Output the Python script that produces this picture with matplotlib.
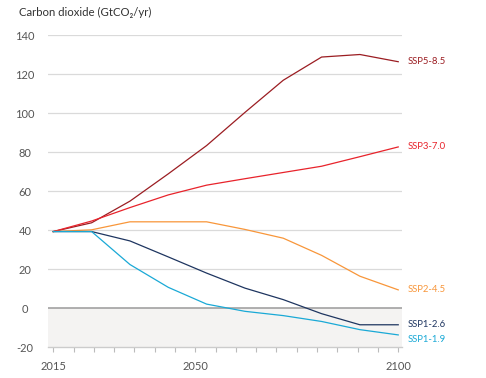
import numpy as np
import matplotlib
matplotlib.use("Agg")
import matplotlib.pyplot as plt
from matplotlib.patches import Rectangle

plt.rcParams['font.family'] = ['Lato', 'DejaVu Sans']

# data points (the original chart spaces them evenly along the axis)
years = [2015, 2020, 2030, 2040, 2050, 2060, 2070, 2080, 2090, 2100]
ssp585 = [39.2, 43.7, 54.8, 68.8, 83.3, 100.3, 116.8, 128.7, 130.0, 126.3]
ssp370 = [39.2, 44.6, 51.5, 58.0, 63.0, 66.3, 69.5, 72.7, 77.6, 82.6]
ssp245 = [39.2, 40.1, 44.2, 44.2, 44.2, 40.3, 35.8, 27.0, 16.3, 9.3]
ssp126 = [39.2, 39.2, 34.4, 26.2, 17.9, 10.2, 4.3, -2.9, -8.6, -8.6]
ssp119 = [39.2, 39.2, 22.3, 10.6, 2.0, -1.7, -3.9, -6.9, -11.1, -13.8]

names = ['SSP5-8.5', 'SSP3-7.0', 'SSP2-4.5', 'SSP1-2.6', 'SSP1-1.9']
series = [ssp585, ssp370, ssp245, ssp126, ssp119]
colors = ['#9b1d22', '#e8232b', '#f8963a', '#1e3560', '#1aa9d6']
label_dy = [0, 0, 0, 0, -3]

yticks = [-20, 0, 20, 40, 60, 80, 100, 120, 140]
xticks = [2015, 2050, 2100]

x = np.linspace(years[0], years[-1], len(years))

fig = plt.figure(figsize=(4.86, 3.78), dpi=100)
ax = fig.add_axes([0.0988, 0.082, 0.7277, 0.8254])

ax.set_xlim(2013.7, 2100.85)
ax.set_ylim(-20, 140)

# shaded negative region
ax.add_patch(Rectangle((2013.7, -20), 2100.85 - 2013.7, 20,
                       facecolor='#f4f3f2', edgecolor='none', zorder=0))

for v in yticks:
    if v == 0:
        ax.axhline(v, color='#9a9a9a', lw=1.1, zorder=1)
    elif v > -20:
        ax.axhline(v, color='#dadada', lw=0.9, zorder=1)

for name, vals, c, dy in zip(names, series, colors, label_dy):
    ax.plot(x, vals, color=c, lw=0.9, zorder=3)
    ax.annotate(name, (x[-1], vals[-1]), xytext=(7, dy), textcoords='offset points',
                ha='left', va='center', fontsize=6.8, color=c,
                annotation_clip=False)

for s in ['top', 'right', 'left']:
    ax.spines[s].set_visible(False)
ax.spines['bottom'].set_color('#cccccc')
ax.spines['bottom'].set_linewidth(1.0)

ax.set_yticks(yticks)
ax.set_yticklabels([str(v) for v in yticks])
ax.tick_params(axis='y', length=0, pad=16.5, labelsize=8, labelcolor='#555555')
for lab in ax.get_yticklabels():
    lab.set_horizontalalignment('center')

ax.set_xticks(xticks)
ax.set_xticks(np.arange(2015, 2101, 5), minor=True)
ax.tick_params(axis='x', which='both', length=3.6, width=0.8, color='#bbbbbb')
ax.tick_params(axis='x', which='major', pad=6.5, labelsize=8, labelcolor='#555555')

fig.text(19 / 486, 1 - 12 / 378, 'Carbon dioxide (GtCO₂/yr)', ha='left', va='center',
         fontsize=8.2, color='#333333')

fig.savefig('out.png', dpi=100)
